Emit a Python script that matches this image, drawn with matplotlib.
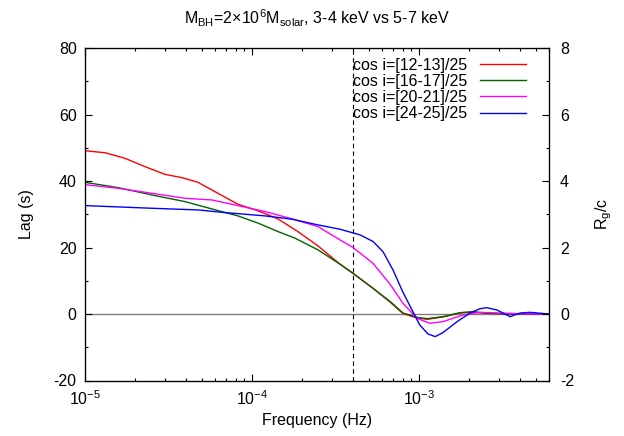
import numpy as np
import matplotlib
matplotlib.use("Agg")
import matplotlib.pyplot as plt
from matplotlib.ticker import MultipleLocator, LogLocator, LogFormatterMathtext, NullFormatter

plt.rcParams['font.family'] = ['Liberation Sans', 'DejaVu Sans']
plt.rcParams['mathtext.default'] = 'regular'
plt.rcParams['axes.unicode_minus'] = False
plt.rcParams['font.size'] = 11.5

labels = ["cos i=[12-13]/25", "cos i=[16-17]/25", "cos i=[20-21]/25", "cos i=[24-25]/25"]
colors = ["#ff0000", "#006400", "#ff00ff", "#0000ff"]

f_red = [1.00e-5, 1.32e-5, 1.74e-5, 2.29e-5, 3.01e-5, 3.81e-5, 4.75e-5, 6.25e-5, 8.24e-5,
         1.09e-4, 1.43e-4, 1.88e-4, 2.48e-4, 3.36e-4, 4.03e-4, 5.31e-4, 6.70e-4, 8.02e-4,
         9.73e-4, 1.12e-3, 1.39e-3, 1.76e-3, 2.10e-3, 2.55e-3, 3.51e-3, 6.0e-3]
lag_red = [49.1, 48.5, 46.8, 44.3, 42.0, 41.0, 39.6, 36.3, 33.0,
           31.0, 28.6, 24.8, 20.5, 15.0, 12.2, 7.7, 3.6, 0.1,
           -1.2, -1.6, -0.9, 0.3, 0.6, 0.2, 0.0, 0.0]

f_green = [1.00e-5, 1.58e-5, 2.52e-5, 3.97e-5, 6.25e-5, 8.24e-5, 1.09e-4, 1.43e-4, 1.81e-4,
           2.48e-4, 3.36e-4, 4.03e-4, 5.31e-4, 6.70e-4, 8.02e-4, 9.73e-4, 1.12e-3, 1.39e-3,
           1.76e-3, 2.10e-3, 2.55e-3, 3.51e-3, 6.0e-3]
lag_green = [39.6, 38.0, 35.8, 33.8, 31.1, 29.5, 27.3, 24.8, 22.8,
             19.3, 15.0, 12.2, 7.7, 3.8, 0.3, -1.0, -1.4, -0.8,
             0.4, 0.7, 0.2, 0.0, 0.0]

f_mag = [1.00e-5, 1.58e-5, 2.52e-5, 3.97e-5, 5.76e-5, 8.24e-5, 1.20e-4, 1.74e-4, 2.48e-4,
         3.36e-4, 4.03e-4, 5.31e-4, 6.70e-4, 8.02e-4, 9.73e-4, 1.16e-3, 1.39e-3, 1.83e-3,
         2.32e-3, 3.0e-3, 4.0e-3, 6.0e-3]
lag_mag = [38.9, 37.8, 36.3, 34.8, 34.3, 32.6, 30.8, 28.6, 26.3,
           22.3, 20.0, 15.2, 9.0, 3.2, -1.3, -2.8, -2.3, -0.3,
           0.5, 0.3, 0.1, 0.0]

f_blue = [1.00e-5, 2.52e-5, 4.75e-5, 6.89e-5, 1.20e-4, 1.74e-4, 2.48e-4, 3.36e-4, 4.43e-4,
          5.31e-4, 6.09e-4, 6.99e-4, 8.02e-4, 9.08e-4, 1.01e-3, 1.13e-3, 1.25e-3, 1.39e-3,
          1.69e-3, 2.02e-3, 2.32e-3, 2.55e-3, 2.93e-3, 3.51e-3, 4.03e-3, 4.62e-3, 6.0e-3]
lag_blue = [32.6, 31.8, 31.3, 30.5, 29.5, 28.5, 26.8, 25.5, 23.8,
            21.8, 18.7, 13.2, 6.5, 1.2, -3.3, -6.0, -6.8, -5.6,
            -2.3, 0.3, 1.6, 1.9, 1.2, -0.8, 0.3, 0.5, 0.0]

freqs = [f_red, f_green, f_mag, f_blue]
lags = [lag_red, lag_green, lag_mag, lag_blue]

f_mark = 4.0e-4
xlim = (1e-5, 6.0e-3)
ylim = (-20, 80)
ylim_r = (-2, 8)

fig = plt.figure(figsize=(6.24, 4.36), dpi=100)
ax = fig.add_axes([85/624, 1-380.5/436, (549-85)/624, (380.5-48)/436])

for f, l, c, lab in zip(freqs, lags, colors, labels):
    ax.plot(f, l, color=c, lw=1.0, label=lab, solid_joinstyle="round")

ax.axhline(0, color="#808080", lw=1.0, zorder=1)
ax.axvline(f_mark, color="black", lw=0.8, ls=(0, (4, 3)), zorder=1)

ax.set_xscale("log")
ax.set_xlim(*xlim)
ax.set_ylim(*ylim)
ax.xaxis.set_major_locator(LogLocator(base=10, numticks=10))
ax.xaxis.set_major_formatter(LogFormatterMathtext())
ax.xaxis.set_minor_locator(LogLocator(base=10, subs=np.arange(2, 10), numticks=20))
ax.xaxis.set_minor_formatter(NullFormatter())
ax.yaxis.set_major_locator(MultipleLocator(20))
ax.yaxis.set_minor_locator(MultipleLocator(10))
ax.tick_params(which="both", direction="in", top=True, right=False)
ax.tick_params(which="major", length=5, width=0.8, pad=6)
ax.tick_params(which="minor", length=2.5, width=0.8)

ax2 = ax.twinx()
ax2.set_ylim(*ylim_r)
ax2.yaxis.set_major_locator(MultipleLocator(2))
ax2.yaxis.set_minor_locator(MultipleLocator(1))
ax2.tick_params(which="both", direction="in")
ax2.tick_params(which="major", length=5, width=0.8, pad=8)
ax2.tick_params(which="minor", length=2.5, width=0.8)

ax.set_xlabel("Frequency (Hz)", labelpad=4)
ax.set_ylabel("Lag (s)", labelpad=14)
ax2.set_ylabel(r"R$_{g}$/c", labelpad=14)
fig.text(317/624, 1-18/436, r"M$_{BH}$=2$\times$10$^{6}$M$_{solar}$, 3-4 keV vs 5-7 keV",
         ha="center", va="center", fontsize=11.5)

leg = ax.legend(loc="upper right", frameon=False, markerfirst=False, handlelength=2.9,
                handletextpad=0.8, labelspacing=0.08, borderaxespad=0.3,
                bbox_to_anchor=(0.975, 1.005), fontsize=11.5)

for sp in ax.spines.values():
    sp.set_linewidth(0.9)

fig.savefig("out.png", dpi=100)
